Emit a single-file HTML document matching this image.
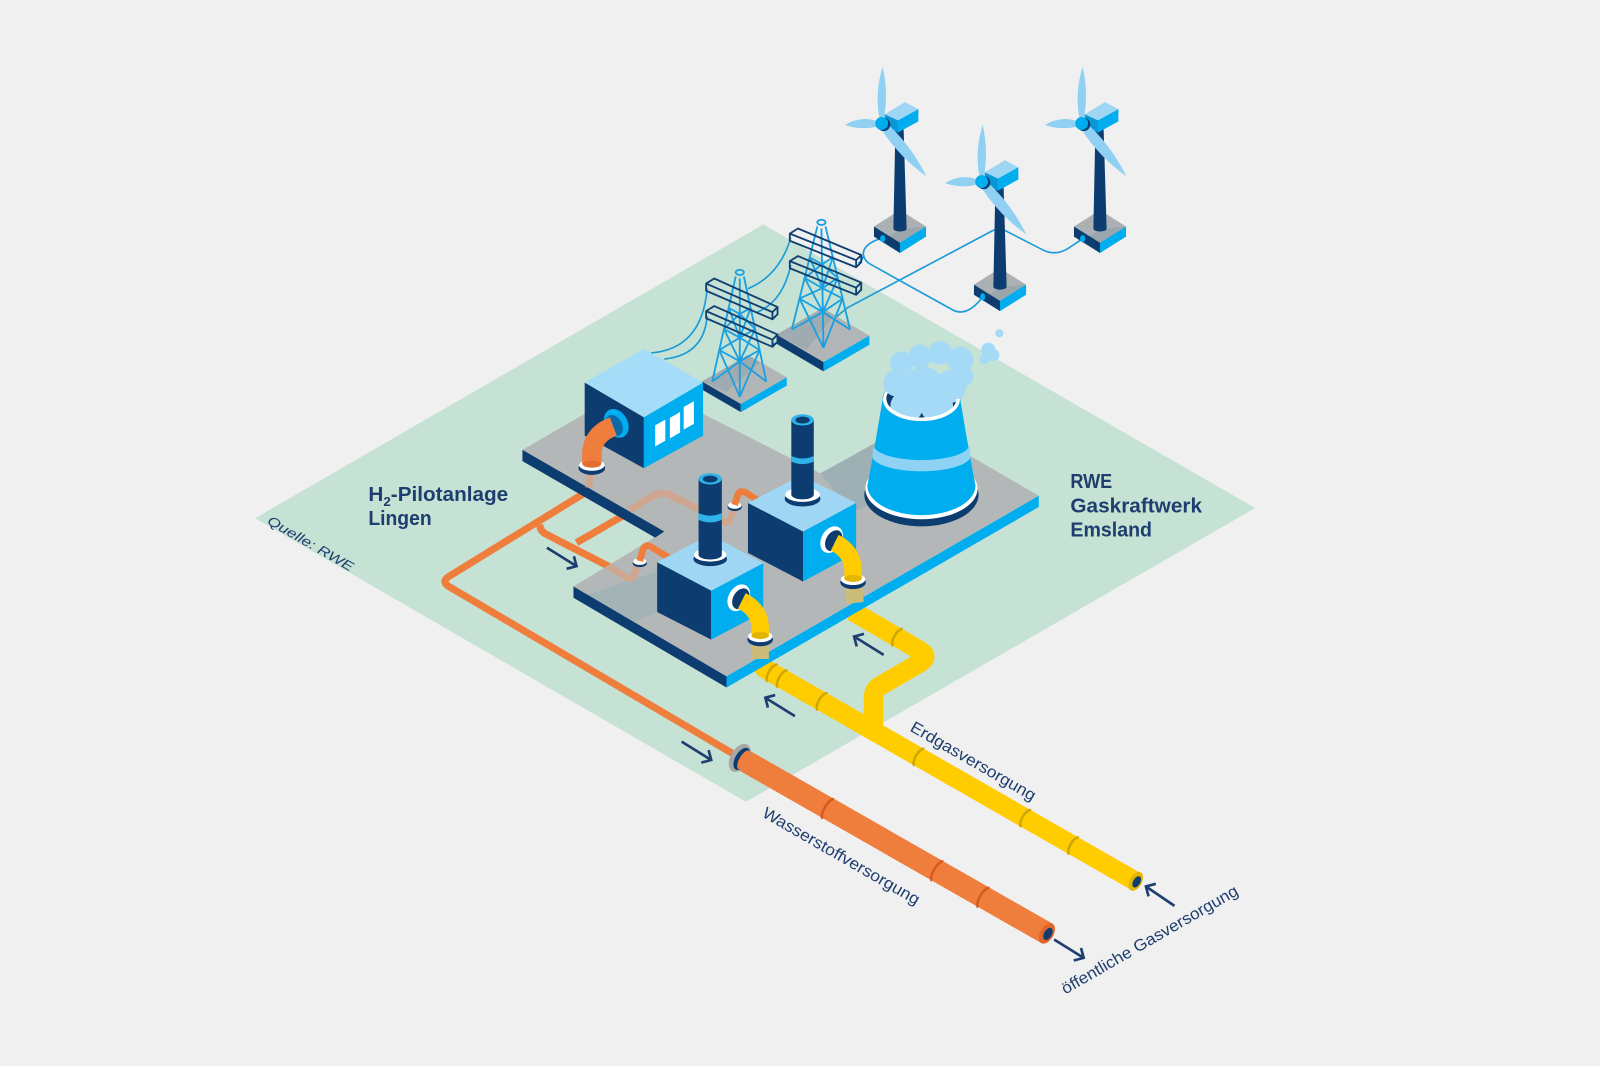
<!DOCTYPE html>
<html><head><meta charset="utf-8"><title>H2-Pilotanlage Lingen</title>
<style>
html,body{margin:0;padding:0;background:#f0f0f0;overflow:hidden}
svg{display:block}
text{font-family:"Liberation Sans",Arial,sans-serif;fill:#1d3e6e}
</style></head><body>
<svg xmlns="http://www.w3.org/2000/svg" width="1600" height="1066" viewBox="0 0 1568 1045" preserveAspectRatio="none">
<defs>
 <clipPath id="cc"><path d="M830 280 H1000 V391 H939 A36 20 0 0 1 867 391 H830 Z"/></clipPath>
 <g id="turb">
  <polygon points="-7.5,101 18,85 43.5,101 18,117" fill="#aab0b3"/>
  <polygon points="18,104 43.5,101 18,117 8,111" fill="#9aa6ab"/>
  <polygon points="-7.5,101 18,117 18,127 -7.5,111" fill="#0d3d70"/>
  <polygon points="18,117 43.5,101 43.5,111 18,127" fill="#00aeef"/>
  <ellipse cx="2.5" cy="112.5" rx="3.5" ry="4.5" fill="#0d3d70"/>
  <ellipse cx="1" cy="113" rx="2.5" ry="3.5" fill="#00aeef"/>
  <path d="M11.5,103 L13.5,4 L21.5,4 L24.5,103 A6.5,3 0 0 1 11.5,103 Z" fill="#0d3d70"/>
  <polygon points="3,-9 23,-21 36,-14 16,-3" fill="#9fd6f3"/>
  <polygon points="16,-3 36,-14 36,-2 16,9" fill="#00aeef"/>
  <polygon points="3,-9 16,-3 16,9 3,3" fill="#0b96d5"/>
  <path d="M-2,-4 Q-7,-30 1,-55.5 Q7,-30 2,-4 Z" fill="#8fd0f3"/>
  <path d="M-4,-2 Q-20,-8 -36,1.5 Q-20,7 -4,3 Z" fill="#8fd0f3"/>
  <path d="M3,-2 Q28,20 44,52 Q16,32 -2,3 Z" fill="#8fd0f3"/>
  <circle cx="2" cy="1" r="6.5" fill="#0d3d70"/>
  <circle cx="0" cy="0" r="6.3" fill="#00aeef"/>
 </g>
</defs>

<rect width="1568" height="1045" fill="#f0f0f0"/>
<polygon points="748,220 1230,498 731,786 250,508" fill="#c5e2d4"/>

<!-- cables / power lines -->
<g fill="none" stroke="#1a9bd9" stroke-width="1.6">
 <path d="M638,346 Q688,342 693,283"/>
 <path d="M651,352 Q690,348 693,310"/>
 <path d="M733,283 Q764,270 775,233"/>
 <path d="M742,306 Q767,296 775,260"/>
 <path d="M757,337 Q795,333 830,302 L973,226 Q980,223 987,227 L1022,245 Q1034,251 1046,244 L1061,234"/>
 <path d="M865,233 Q846,239 846,249 Q847,256 853,259 L934,304 Q948,311 963,291"/>
 <path d="M841,258 Q845,256 846,251"/>
</g>

<!-- turbines -->
<use href="#turb" transform="translate(864,121)"/>
<use href="#turb" transform="translate(1060,121)"/>
<use href="#turb" transform="translate(962,178)"/>

<!-- pylon 2 -->
<polygon points="761,328 806,302 852,329 807,355" fill="#b1b5b7"/>
<polygon points="761,328 806,302 818,309 790,343" fill="#9eabb0"/>
<polygon points="761,328 807,355 807,364 761,337" fill="#0d3d70"/>
<polygon points="807,355 852,329 852,338 807,364" fill="#00aeef"/>
<g fill="none" stroke="#1ba0e1" stroke-width="1.8">
 <path d="M801,222 L776,323 M805,224 L807,341 M809,222 L833,323"/>
 <path d="M793.5,252.3 L805.6,259.1 L816.2,252.3 M788.5,272.5 L806,282.5 L821,272.5 M783.5,292.7 L806.4,305.9 L825.8,292.7"/>
 <path d="M793.5,252.3 L806,282.5 M805.6,259.1 L788.5,272.5 M788.5,272.5 L806.4,305.9 M806,282.5 L783.5,292.7 M783.5,292.7 L807,341 M806.4,305.9 L776,323"/>
 <path d="M816.2,252.3 L806,282.5 M805.6,259.1 L821,272.5 M821,272.5 L806.4,305.9 M806,282.5 L825.8,292.7 M825.8,292.7 L807,341 M806.4,305.9 L833,323"/>
 <ellipse cx="805" cy="218" rx="4" ry="2.5"/>
</g>
<g fill="none" stroke="#123f72" stroke-width="1.8" stroke-linejoin="round">
 <path d="M774,229 L782,224 L844,250 L839,255 Z M774,229 L774,236 L839,262 L839,255 M844,250 L844,257 L839,262"/>
 <path d="M774,256 L782,251 L844,277 L839,282 Z M774,256 L774,263 L839,289 L839,282 M844,277 L844,284 L839,289"/>
</g>

<!-- pylon 1 -->
<polygon points="688,374 733,348 771,370 726,396" fill="#b1b5b7"/>
<polygon points="688,374 733,348 745,355 712,384" fill="#9eabb0"/>
<polygon points="688,374 726,396 726,404 688,382" fill="#0d3d70"/>
<polygon points="726,396 771,370 771,378 726,404" fill="#00aeef"/>
<g fill="none" stroke="#1ba0e1" stroke-width="1.8">
 <path d="M721,271 L698,374 M725,273 L725,389 M729,271 L751,374"/>
 <path d="M714.1,301.9 L725,307.8 L735.6,301.9 M709.5,322.5 L725,331 L740,322.5 M704.9,343.1 L725,354.2 L744.4,343.1"/>
 <path d="M714.1,301.9 L725,331 M725,307.8 L709.5,322.5 M709.5,322.5 L725,354.2 M725,331 L704.9,343.1 M704.9,343.1 L725,389 M725,354.2 L698,374"/>
 <path d="M735.6,301.9 L725,331 M725,307.8 L740,322.5 M740,322.5 L725,354.2 M725,331 L744.4,343.1 M744.4,343.1 L725,389 M725,354.2 L751,374"/>
 <ellipse cx="725" cy="267" rx="4" ry="2.5"/>
</g>
<g fill="none" stroke="#123f72" stroke-width="1.8" stroke-linejoin="round">
 <path d="M692,278 L700,273 L762,301 L757,306 Z M692,278 L692,285 L757,313 L757,306 M762,301 L762,308 L757,313"/>
 <path d="M692,305 L700,300 L762,328 L757,333 Z M692,305 L692,312 L757,340 L757,333 M762,328 L762,335 L757,340"/>
</g>

<!-- orange pipes on ground -->
<g fill="none" stroke="#ef7d3c" stroke-width="7" stroke-linejoin="round">
 <path d="M575,482 L440,565 Q432,570 440,575 L722,741"/>
 <path d="M529,514 Q529,521 536,524 L600,557"/>
 <path d="M565,532 L615,503"/>
</g>

<!-- yellow pipes -->
<g fill="none" stroke="#ffcc00" stroke-width="19" stroke-linejoin="round">
 <path d="M745,626 L745,645 Q745,653 752,657 L1113,864"/>
 <path d="M856,720 L856,684 Q856,676 863,672 L901,650 Q911,644 902,638 L835,599"/>
</g>
<g fill="none" stroke="#cfa600" stroke-width="2.5">
 <path d="M761.75,651.7 A4 9.5 30 0 0 752.25,668.1"/>
 <path d="M771.75,657.4 A4 9.5 30 0 0 762.25,673.8"/>
 <path d="M810.75,679.8 A4 9.5 30 0 0 801.25,696.2"/>
 <path d="M905.75,734.2 A4 9.5 30 0 0 896.25,750.6"/>
 <path d="M1010.25,794.2 A4 9.5 30 0 0 1000.75,810.6"/>
 <path d="M1057.25,821.1 A4 9.5 30 0 0 1047.75,837.5"/>
 <path d="M884.75,616.8 A4 9.5 30 0 0 875.25,633.2"/>
</g>
<ellipse cx="1113" cy="864" rx="6" ry="10" transform="rotate(30 1113 864)" fill="#e3b500"/>
<ellipse cx="1114" cy="864.5" rx="3.5" ry="6" transform="rotate(30 1114 864.5)" fill="#0d3d70"/>

<!-- big orange pipe -->
<path d="M725,743 L1026,915" stroke="#ef7d3c" stroke-width="22" fill="none"/>
<g fill="none" stroke="#d65a20" stroke-width="2.5">
 <path d="M817.2,783.5 A4 11 30 0 0 806.2,802.5"/>
 <path d="M924.3,844.5 A4 11 30 0 0 913.3,863.5"/>
 <path d="M969.5,870.5 A4 11 30 0 0 958.5,889.5"/>
</g>
<ellipse cx="1026" cy="915" rx="6.5" ry="11" transform="rotate(30 1026 915)" fill="#e0662a"/>
<ellipse cx="1027" cy="915.5" rx="3.8" ry="6.5" transform="rotate(30 1027 915.5)" fill="#0d3d70"/>
<ellipse cx="725" cy="743" rx="9" ry="15" transform="rotate(30 725 743)" fill="#a5a7a9"/>
<ellipse cx="727" cy="744" rx="6.5" ry="12" transform="rotate(30 727 744)" fill="#0d3d70"/>
<ellipse cx="729" cy="745" rx="4.5" ry="10.5" transform="rotate(30 729 745)" fill="#ef7d3c"/>

<!-- platforms -->
<polygon points="512,441 627,374.5 804,464 894,414 1018,486 712,663 562,575 651,521" fill="#b3b7b8"/>
<polygon points="575,583 644,560 644,600 615,612" fill="#a3b3b6"/>
<polygon points="804,464 866,430 852,495 835,502" fill="#9fb0b4"/>
<polygon points="512,441 651,521 642,527 512,452" fill="#0d3d70"/>
<polygon points="562,575 712,663 712,674 562,586" fill="#0d3d70"/>
<polygon points="712,663 1018,486 1018,497 712,674" fill="#00aeef"/>

<!-- faint pipes under platform -->
<g fill="none" stroke="#cfa791" stroke-width="7" stroke-linejoin="round">
 <path d="M617,500 L640,486 Q649,481 658,486 L709,511 Q715,514 716,507 L720,497"/>
 <path d="M596,555 L614,566 Q621,569 622,562 L626,551"/>
 <path d="M579,459 L577,478"/>
</g>
<g fill="none" stroke="#cbbd79" stroke-width="17">
 <path d="M745,627 L745,646"/>
 <path d="M836,570 L838,591"/>
</g>

<!-- building -->
<polygon points="573,375 631,409 631,459 573,427" fill="#0d3d70"/>
<polygon points="631,409 689,375 689,427 631,459" fill="#00aeef"/>
<polygon points="573,375 631,342 689,375 631,409" fill="#a5dcf7"/>
<g fill="#ffffff">
 <polygon points="642,417 652,411.3 652,432 642,437.7"/>
 <polygon points="656.5,409.6 666.5,403.9 666.5,424 656.5,429.7"/>
 <polygon points="670,399 680,393.3 680,415.5 670,421.2"/>
</g>
<ellipse cx="604" cy="415" rx="11" ry="15" transform="rotate(-30 604 415)" fill="#00aeef"/>
<ellipse cx="602" cy="417" rx="7.5" ry="11" transform="rotate(-30 602 417)" fill="#0b6aa8"/>
<ellipse cx="580" cy="459" rx="13" ry="6.5" fill="#0d3d70"/>
<ellipse cx="580" cy="456" rx="12.5" ry="5.5" fill="#ffffff"/>
<path d="M601,418 Q580,426 580,446 L580,455" fill="none" stroke="#ef7d3c" stroke-width="19"/>
<ellipse cx="580" cy="455" rx="9" ry="3.5" fill="#e36d2e"/>

<!-- cooling tower -->
<ellipse cx="903" cy="485" rx="56" ry="31" fill="#0d3d70"/>
<ellipse cx="903" cy="479" rx="55" ry="30" fill="#ffffff"/>
<path d="M865,391 Q857,440 850,476 A53 29 0 0 0 956 476 Q949,440 941,391 A38 22 0 0 0 865 391 Z" fill="#00aeef"/>
<path d="M856,436 A47 15 0 0 0 950 436 L951,447 A48 15 0 0 1 855 447 Z" fill="#8fd3f4"/>
<ellipse cx="903" cy="391" rx="36" ry="20" fill="#0d3d70" stroke="#ffffff" stroke-width="3"/>
<g clip-path="url(#cc)" fill="#a5daf6">
 <circle cx="883.6" cy="356" r="11.5"/>
 <circle cx="901.6" cy="349.5" r="11.5"/>
 <circle cx="921" cy="346" r="11.5"/>
 <circle cx="940.8" cy="352.8" r="13"/>
 <circle cx="944" cy="369" r="10"/>
 <circle cx="878.7" cy="375.7" r="13"/>
 <circle cx="904.9" cy="379" r="19.6"/>
 <circle cx="931" cy="379" r="16"/>
 <circle cx="888.5" cy="398.5" r="16"/>
 <circle cx="918" cy="398.5" r="16"/>
 <circle cx="968.6" cy="343" r="7"/>
 <circle cx="973.5" cy="348" r="6"/>
 <circle cx="965" cy="352" r="5"/>
 <circle cx="979.3" cy="326.7" r="4"/>
</g>
<path d="M867,391 A36 20 0 0 0 939 391" fill="none" stroke="#ffffff" stroke-width="3.5"/>

<!-- orange stubs -->
<ellipse cx="627" cy="552" rx="7" ry="4" fill="#0d3d70"/>
<ellipse cx="627" cy="550.5" rx="6.5" ry="3.3" fill="#ffffff"/>
<ellipse cx="720" cy="497" rx="7" ry="4" fill="#0d3d70"/>
<ellipse cx="720" cy="495.5" rx="6.5" ry="3.3" fill="#ffffff"/>
<g fill="none" stroke="#ef7d3c" stroke-width="6.5" stroke-linejoin="round">
 <path d="M627,550 L630,539 Q632,533 638,536 L656,547"/>
 <path d="M720,495 L723,485 Q725,480 731,483 L745,492"/>
</g>

<!-- box 2 -->
<polygon points="733,493 787,521 787,570 733,542" fill="#0d3d70"/>
<polygon points="787,521 839,493 839,542 787,570" fill="#00aeef"/>
<polygon points="733,493 785,466 839,493 787,521" fill="#9fd6f3"/>
<ellipse cx="786.5" cy="489" rx="17.5" ry="7.5" fill="#0d3d70"/>
<ellipse cx="786.5" cy="485" rx="17" ry="7" fill="#ffffff"/>
<path d="M775.5,411.6 L797.5,411.6 L797.5,485 A11 4.5 0 0 1 775.5 485 Z" fill="#0d3d70"/>
<path d="M775.5,447 Q786.5,452 797.5,447 L797.5,452.5 Q786.5,457.5 775.5,452.5 Z" fill="#2fb3ea"/>
<ellipse cx="786.5" cy="411.6" rx="11" ry="5.5" fill="#2fb3ea"/>
<ellipse cx="786.5" cy="411.8" rx="7" ry="3.4" fill="#0d3d70"/>
<ellipse cx="815" cy="529" rx="10" ry="14" transform="rotate(30 815 529)" fill="#ffffff"/>
<ellipse cx="817" cy="530" rx="7.5" ry="11" transform="rotate(30 817 530)" fill="#0d3d70"/>
<ellipse cx="836" cy="571" rx="12.5" ry="6.5" fill="#0d3d70"/>
<ellipse cx="836" cy="568" rx="12" ry="5.5" fill="#ffffff"/>
<path d="M818,532 Q836,541 836,560 L836,568" fill="none" stroke="#ffcc00" stroke-width="17"/>
<ellipse cx="836" cy="567" rx="8.5" ry="3.5" fill="#e3b500"/>

<!-- box 1 -->
<polygon points="644,551 697,579 697,627 644,600" fill="#0d3d70"/>
<polygon points="697,579 748,552 748,600 697,627" fill="#00aeef"/>
<polygon points="644,551 696,524 748,552 697,579" fill="#9fd6f3"/>
<ellipse cx="696" cy="548" rx="16.5" ry="7" fill="#0d3d70"/>
<ellipse cx="696" cy="544" rx="16" ry="6.5" fill="#ffffff"/>
<path d="M684.6,469.4 L707.4,469.4 L707.4,544 A11.4 4.5 0 0 1 684.6 544 Z" fill="#0d3d70"/>
<path d="M684.6,503 Q696,508 707.4,503 L707.4,509.6 Q696,514.6 684.6,509.6 Z" fill="#2fb3ea"/>
<ellipse cx="696" cy="469.4" rx="11.4" ry="5.5" fill="#2fb3ea"/>
<ellipse cx="696" cy="469.6" rx="7.2" ry="3.4" fill="#0d3d70"/>
<ellipse cx="724" cy="586" rx="10" ry="14" transform="rotate(30 724 586)" fill="#ffffff"/>
<ellipse cx="726" cy="587" rx="7.5" ry="11" transform="rotate(30 726 587)" fill="#0d3d70"/>
<ellipse cx="745" cy="627" rx="12.5" ry="6.5" fill="#0d3d70"/>
<ellipse cx="745" cy="624" rx="12" ry="5.5" fill="#ffffff"/>
<path d="M727,589 Q745,598 745,616 L745,624" fill="none" stroke="#ffcc00" stroke-width="17"/>
<ellipse cx="745" cy="623" rx="8.5" ry="3.5" fill="#e3b500"/>

<!-- arrows -->
<g fill="none" stroke="#1d3e6e" stroke-width="2.6">
 <path d="M866,642 L837,624 M846.7,621.4 L837,624 L839.6,633.7"/>
 <path d="M779,702 L750,684 M759.7,681.4 L750,684 L752.6,693.7"/>
 <path d="M1151,888 L1123,869 M1132.7,866.4 L1123,869 L1125.6,878.7"/>
 <path d="M668,727 L697,745 M687.3,747.6 L697,745 L694.4,735.3"/>
 <path d="M1033,921 L1062,939 M1052.3,941.6 L1062,939 L1059.4,929.3"/>
 <path d="M536,537 L565,555 M555.3,557.6 L565,555 L562.4,545.3"/>
</g>

<!-- labels -->
<text x="361" y="491" font-size="20" font-weight="bold" textLength="137" lengthAdjust="spacingAndGlyphs">H<tspan font-size="13" dy="5">2</tspan><tspan dy="-5">-Pilotanlage</tspan></text>
<text x="361" y="514.5" font-size="20" font-weight="bold" textLength="62" lengthAdjust="spacingAndGlyphs">Lingen</text>
<text x="1049" y="478.5" font-size="20" font-weight="bold" textLength="41" lengthAdjust="spacingAndGlyphs">RWE</text>
<text x="1049" y="502.4" font-size="20" font-weight="bold" textLength="129" lengthAdjust="spacingAndGlyphs">Gaskraftwerk</text>
<text x="1049" y="526" font-size="20" font-weight="bold" textLength="80" lengthAdjust="spacingAndGlyphs">Emsland</text>
<text transform="translate(891,716) rotate(30)" font-size="16" textLength="139" lengthAdjust="spacingAndGlyphs">Erdgasversorgung</text>
<text transform="translate(746,800) rotate(30)" font-size="16" textLength="175" lengthAdjust="spacingAndGlyphs">Wasserstoffversorgung</text>
<text transform="translate(1044,975) rotate(-30)" font-size="16" textLength="197" lengthAdjust="spacingAndGlyphs">öffentliche Gasversorgung</text>
<text transform="translate(261,513) rotate(30)" font-size="13" font-style="italic" textLength="95" lengthAdjust="spacingAndGlyphs">Quelle: RWE</text>
</svg>
</body></html>
